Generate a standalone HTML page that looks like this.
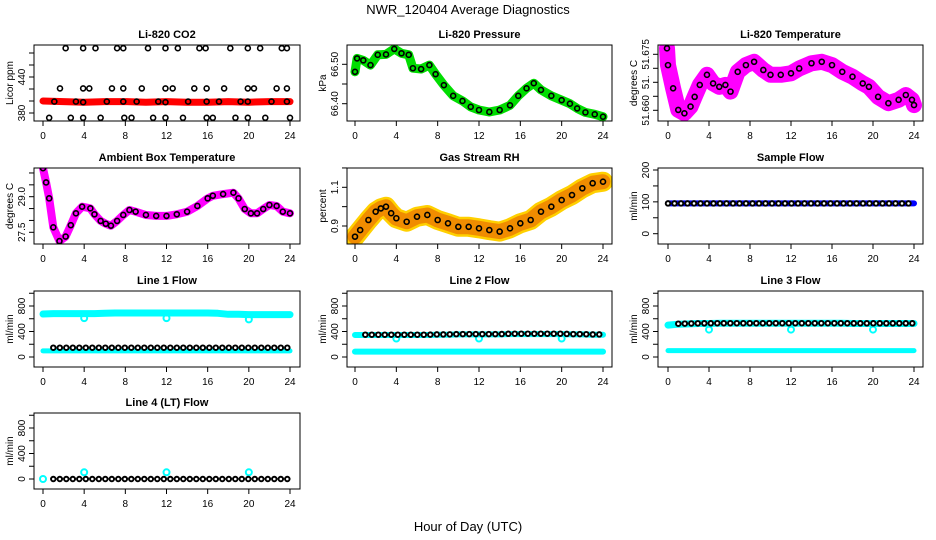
<!DOCTYPE html>
<html><head><meta charset="utf-8"><style>
html,body{margin:0;padding:0;background:#fff}
svg{display:block;font-family:"Liberation Sans",sans-serif}
</style></head><body>
<svg id="chart" width="936" height="540" viewBox="0 0 936 540">
<rect x="0" y="0" width="936" height="540" fill="#fff"/>
<text x="468" y="14" font-size="13" text-anchor="middle">NWR_120404  Average Diagnostics</text>
<text x="468" y="531" font-size="13" text-anchor="middle">Hour of Day (UTC)</text>
</svg>
<script>
// ---- data ----
const co2BandHours=[0,2,4,6,8,10,12,14,16,18,20,22,24];
const co2BandValues=[400,399,398,399,399,398,399,398,398,399,398,399,399];
const co2HiHours=[2.2,3.9,5.1,7.2,7.8,10.2,11.9,13.1,15.2,15.8,18.2,19.9,21.1,23.2,23.7];
const co2HiValues=[488,488,488,488,488,488,488,488,488,488,488,488,488,488,488];
const co2MidHours=[1.65,3.9,4.5,6.7,7.8,9.6,11.9,12.6,14.7,15.9,17.6,19.9,20.5,22.7,23.7];
const co2MidValues=[421,421,421,421,421,421,421,421,421,421,421,421,421,421,421];
const co2LowHours=[1.1,3.2,3.9,6.2,7.8,9.1,11.2,11.9,14.1,15.9,17.1,19.2,19.9,22.2,23.7];
const co2LowValues=[399,399,398,399,399,399,399,398,399,399,399,399,399,399,399];
const co2MinHours=[0.6,2.7,3.9,5.6,7.9,8.6,10.7,11.9,13.6,15.9,16.5,18.7,19.9,21.6,24];
const co2MinValues=[372,372,372,372,372,372,372,372,372,372,372,372,372,372,372];

const presHours=[0,0.2,0.8,1.5,2.2,3,3.8,4.5,5.2,5.6,6.4,7.2,7.8,8.6,9.5,10.4,11.2,12,13,14,15,15.8,16.6,17.3,18,19,20,20.8,21.5,22.3,23.2,24];
const presValues=[66.481,66.515,66.51,66.498,66.524,66.525,66.539,66.528,66.524,66.49,66.488,66.498,66.475,66.447,66.42,66.407,66.392,66.384,66.379,66.384,66.396,66.42,66.439,66.452,66.435,66.42,66.409,66.40,66.388,66.378,66.373,66.367];

const liTempHours=[-0.1,0,0.5,1,1.6,2.2,2.6,3.1,3.8,4.4,5,5.6,6.1,6.8,7.6,8.4,9.3,10,11,12,12.8,14,15,16,17,18,19,19.6,20.5,21.5,22.5,23.2,23.8,24];
const liTempValues=[51.6766,51.6721,51.6659,51.6601,51.6592,51.661,51.6636,51.6668,51.6695,51.6672,51.6663,51.6668,51.665,51.6703,51.6721,51.673,51.6708,51.6695,51.6695,51.6699,51.6712,51.6726,51.673,51.6721,51.6703,51.669,51.6672,51.6663,51.6636,51.6619,51.6628,51.6641,51.6628,51.6614];

const ambHours=[0,0.3,0.6,1,1.6,2.2,2.7,3.2,3.8,4.6,5,5.6,6.1,6.6,7.2,7.8,8.4,9,10,11,12,13,14,15,16,16.5,17.5,18.5,19,19.6,20.2,20.8,21.4,22,22.7,23.3,24];
const ambValues=[30.2,29.6,28.93,27.71,27.13,27.32,27.8,28.3,28.58,28.51,28.26,27.98,27.86,27.78,27.98,28.23,28.44,28.37,28.23,28.19,28.19,28.26,28.37,28.61,28.93,29.04,29.11,29.17,28.93,28.48,28.3,28.3,28.48,28.65,28.61,28.37,28.3];

const rhHours=[0,0.5,1.3,2,2.5,3,3.5,4,5,6,7,8,9,10,11,12,13,14,15,16,17,18,19,20,21,22,23,24];
const rhValues=[0.845,0.879,0.931,0.974,0.991,1.0,0.966,0.94,0.922,0.948,0.957,0.931,0.914,0.896,0.896,0.888,0.879,0.871,0.888,0.914,0.931,0.974,1.0,1.034,1.06,1.095,1.121,1.129];

const flowHours=[0,1,2,3,4,5,6,7,8,9,10,11,12,13,14,15,16,17,18,19,20,21,22,23,24];
const sampleBlue=[95,95,95,95,95,95,95,95,95,95,95,95,95,95,95,95,95,95,95,95,95,95,95,95,95];
const sampleBlack=[95,95,95,95,95,95,95,95,95,95,95,95,95,95,95,95,95,95,95,95,95,95,95,95,95];
const line1CyanHigh=[675,680,680,680,680,680,685,690,690,690,690,690,690,690,690,690,690,685,670,670,665,665,665,665,665];
const line1CyanLow=[95,95,95,95,95,95,95,95,95,95,95,95,95,95,95,95,95,95,95,95,95,95,95,95,95];
const line1Black=[146,146,146,146,146,146,146,146,146,146,146,146,146,146,146,146,146,146,146,146,146,146,146,146,146];
const line1DipHours=[4,12,20];
const line1DipValues=[610,610,590];
const line2Black=[350,350,350,350,350,350,350,350,355,355,360,360,360,360,360,365,365,365,365,365,365,360,360,355,355];
const line2CyanHigh=[345,345,345,345,345,345,345,345,350,350,355,355,355,355,355,360,360,360,360,360,360,355,355,350,350];
const line2CyanLow=[85,85,85,85,85,85,85,85,85,85,85,85,85,85,85,85,85,85,85,85,85,85,85,85,85];
const line2DipHours=[4,12,20];
const line2DipValues=[290,290,290];
const line3Black=[520,522,525,528,528,530,530,530,530,530,530,530,530,530,530,530,530,530,528,528,528,528,528,528,528];
const line3CyanHigh=[500,515,520,525,525,528,528,528,528,528,528,528,528,528,528,528,528,528,525,525,525,525,525,525,525];
const line3CyanLow=[100,100,100,100,100,100,100,100,100,100,100,100,100,100,100,100,100,100,100,100,100,100,100,100,100];
const line3DipHours=[4,12,20];
const line3DipValues=[430,430,430];
const line4Black=[0,0,0,0,0,0,0,0,0,0,0,0,0,0,0,0,0,0,0,0,0,0,0,0,0];
const line4CyanHours=[0,4,12,20];
const line4CyanValues=[0,105,105,105];

const xTickValues=[0,4,8,12,16,20,24];

// ---- layout ----
const NS="http://www.w3.org/2000/svg";
const svg=document.getElementById('chart');
const COLS=[{l:34,r:300,x0:43,x24:290},{l:347,r:612,x0:355,x24:603},{l:658,r:923,x0:668,x24:914}];
const ROWS=[45,168,291,413];
const H=76;
function mk(tag,attrs,parent){const e=document.createElementNS(NS,tag);for(const k in attrs)e.setAttribute(k,attrs[k]);(parent||svg).appendChild(e);return e;}

function panel(name,col,row,title,ylab,v1,y1,v2,y2,ticks,labels){
  const c=COLS[col],top=ROWS[row],bot=top+H;
  const g=mk('g',{});
  
  
  const sx=h=>c.x0+(h/24)*(c.x24-c.x0);
  const sy=v=>y1+(v-v1)*(y2-y1)/(v2-v1);
  const t=mk('text',{x:(c.l+c.r)/2,y:top-7,'font-size':11,'font-weight':'bold','text-anchor':'middle'},g);
  t.textContent=title;
  
  
  const clip=mk('clipPath',{id:'clip-'+name},g);
  mk('rect',{x:c.l,y:top,width:c.r-c.l,height:H},clip);
  const plot=mk('g',{'clip-path':'url(#clip-'+name+')'},g);
  
  
  const box=mk('rect',{x:c.l,y:top,width:c.r-c.l,height:H,fill:'none',stroke:'#000','stroke-width':1},g);
  
  
  const xa=mk('g',{},g);
  
  
  xTickValues.forEach(v=>{
    mk('line',{x1:sx(v),x2:sx(v),y1:bot,y2:bot+5,stroke:'#000'},xa);
    const tl=mk('text',{x:sx(v),y:bot+18,'font-size':10,'text-anchor':'middle'},xa);
    tl.textContent=v;
    
    
  });
  const ya=mk('g',{},g);
  
  
  ticks.forEach(v=>{const y=sy(v);if(y<top-1||y>bot+1)return;mk('line',{x1:c.l-5,x2:c.l,y1:y,y2:y,stroke:'#000'},ya);});
  labels.forEach(lb=>{
    const y=sy(lb[0]);
    const tl=mk('text',{x:0,y:0,'font-size':10,'text-anchor':'middle',transform:`translate(${c.l-9},${y}) rotate(-90)`},ya);
    tl.textContent=lb[1];
    
    
  });
  const yt=mk('text',{x:0,y:0,'font-size':10,'text-anchor':'middle',transform:`translate(${c.l-21},${top+H/2}) rotate(-90)`},g);
  yt.textContent=ylab;
  
  
  return {plot,sx,sy};
}
function band(p,hours,vals,color,w,nm){
  const pts=hours.map((h,i)=>p.sx(h).toFixed(1)+','+p.sy(vals[i]).toFixed(1)).join(' ');
  const e=mk('polyline',{points:pts,fill:'none',stroke:color,'stroke-width':w,'stroke-linejoin':'round','stroke-linecap':'round'},p.plot);
  
  
}
function dots(p,hours,vals,color,nm,r,sw){
  hours.forEach((h,i)=>{
    const e=mk('circle',{cx:p.sx(h),cy:p.sy(vals[i]),r:r||2.5,fill:'none',stroke:color,'stroke-width':sw||1.6},p.plot);
    
    
  });
}
function row(p,hours,vals,nm){
  const pts=hours.map((h,i)=>p.sx(h).toFixed(1)+','+p.sy(vals[i]).toFixed(1)).join(' ');
  const e=mk('polyline',{points:pts,fill:'none',stroke:'#000','stroke-width':6.5,'stroke-linecap':'round','stroke-dasharray':'0 6.5'},p.plot);
  
  
  const e2=mk('polyline',{points:pts,fill:'none',stroke:'#fff','stroke-width':2.6,'stroke-linecap':'round','stroke-dasharray':'0 6.5'},p.plot);
  
  
}
const flowTicks=[0,200,400,600,800,1000];
const flowLabels=[[0,'0'],[400,'400'],[800,'800']];

let p=panel('co2',0,0,'Li-820 CO2','Licor ppm',380,113,440,77,[380,400,420,440,460,480],[[380,'380'],[440,'440']]);
band(p,co2BandHours,co2BandValues,'#ff0000',7,'co2-band');
dots(p,co2HiHours,co2HiValues,'#000','co2-point');
dots(p,co2MidHours,co2MidValues,'#000','co2-point');
dots(p,co2LowHours,co2LowValues,'#000','co2-point');
dots(p,co2MinHours,co2MinValues,'#000','co2-point');
p=panel('pressure',1,0,'Li-820 Pressure','kPa',66.40,103.7,66.50,64.3,[66.40,66.45,66.50],[[66.40,'66.40'],[66.50,'66.50']]);
band(p,presHours,presValues,'#00dd00',9,'pressure-band');
dots(p,presHours,presValues,'#000','pressure-point');
p=panel('li-temp',2,0,'Li-820 Temperature','degrees C',51.660,110.3,51.675,54.3,[51.660,51.66375,51.6675,51.67125,51.675],[[51.660,'51.660'],[51.6675,'51.'],[51.675,'51.675']]);
band(p,liTempHours,liTempValues,'#ff00ff',16,'li-temp-band');
dots(p,liTempHours,liTempValues,'#000','li-temp-point');
p=panel('ambient',0,1,'Ambient Box Temperature','degrees C',27.5,232.3,29.0,196.7,[27.5,28.0,28.5,29.0,29.5,30.0],[[27.5,'27.5'],[29.0,'29.0']]);
band(p,ambHours,ambValues,'#ff00ff',8,'ambient-band');
dots(p,ambHours,ambValues,'#000','ambient-point');
p=panel('rh',1,1,'Gas Stream RH','percent',0.9,226,1.1,187.3,[0.9,1.0,1.1,1.2],[[0.9,'0.9'],[1.1,'1.1']]);
band(p,rhHours,rhValues,'#ffd000',20,'rh-band-outer');
band(p,rhHours,rhValues,'#f08c00',15,'rh-band');
dots(p,rhHours,rhValues,'#000','rh-point');
p=panel('sample-flow',2,1,'Sample Flow','ml/min',0,233.7,200,170,[0,50,100,150,200],[[0,'0'],[100,'100'],[200,'200']]);
band(p,flowHours,sampleBlue,'#0000ff',6,'sample-flow-band');
row(p,flowHours,sampleBlack,'sample-flow-points');
function flowPanel(nm,col,rw,title){const top=ROWS[rw];return panel(nm,col,rw,title,'ml/min',0,top+66,800,top+15,flowTicks,flowLabels);}
p=flowPanel('line1',0,2,'Line 1 Flow');
band(p,flowHours,line1CyanHigh,'#00ffff',7,'line1-cyan-high');
band(p,flowHours,line1CyanLow,'#00ffff',5,'line1-cyan-low');
dots(p,line1DipHours,line1DipValues,'#00ffff','line1-cyan-dip',3,2);
row(p,flowHours.slice(1),line1Black.slice(1),'line1-black');
p=flowPanel('line2',1,2,'Line 2 Flow');
band(p,flowHours,line2CyanHigh,'#00ffff',6,'line2-cyan-high');
band(p,flowHours,line2CyanLow,'#00ffff',6,'line2-cyan-low');
dots(p,line2DipHours,line2DipValues,'#00ffff','line2-cyan-dip',3,2);
row(p,flowHours.slice(1),line2Black.slice(1),'line2-black');
p=flowPanel('line3',2,2,'Line 3 Flow');
band(p,flowHours,line3CyanHigh,'#00ffff',7,'line3-cyan-high');
band(p,flowHours,line3CyanLow,'#00ffff',5,'line3-cyan-low');
dots(p,line3DipHours,line3DipValues,'#00ffff','line3-cyan-dip',3,2);
row(p,flowHours.slice(1),line3Black.slice(1),'line3-black');
p=flowPanel('line4',0,3,'Line 4 (LT) Flow');
dots(p,line4CyanHours,line4CyanValues,'#00ffff','line4-cyan',3,2);
row(p,flowHours.slice(1),line4Black.slice(1),'line4-black');
</script>
</body></html>
